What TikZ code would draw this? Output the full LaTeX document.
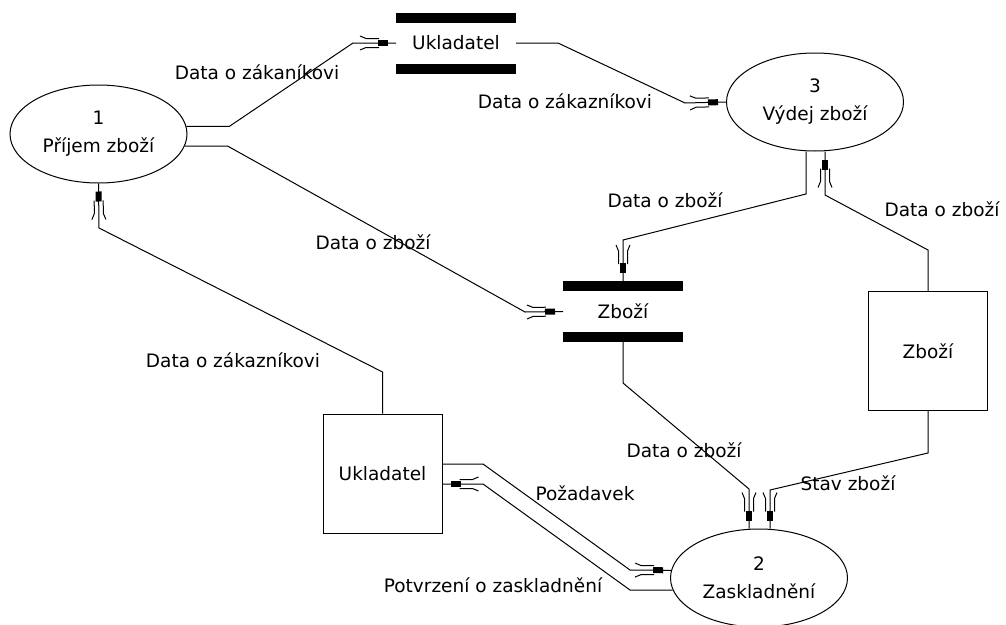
\documentclass[tikz,border=0pt]{standalone}
\usepackage{fontspec}
\setmainfont{DejaVu Sans}
\usepackage{tikz}
\usetikzlibrary{shapes.geometric,arrows.meta}

% flow arrow tip: black block with two prongs behind it
\pgfdeclarearrow{
  name = Flow,
  setup code = {
    \pgfarrowssettipend{0pt}
    \pgfarrowssetlineend{0pt}
    \pgfarrowssetbackend{-36pt}
    \pgfarrowsupperhullpoint{-36pt}{7pt}
    \pgfarrowsupperhullpoint{0pt}{3pt}
  },
  drawing code = {
    \pgfpathrectangle{\pgfpoint{-18pt}{-3pt}}{\pgfpoint{10pt}{6pt}}
    \pgfusepathqfill
    \pgfpathmoveto{\pgfpoint{-17pt}{4.5pt}}
    \pgfpathlineto{\pgfpoint{-30pt}{4.5pt}}
    \pgfpathlineto{\pgfpoint{-36pt}{7pt}}
    \pgfpathmoveto{\pgfpoint{-17pt}{-4.5pt}}
    \pgfpathlineto{\pgfpoint{-30pt}{-4.5pt}}
    \pgfpathlineto{\pgfpoint{-36pt}{-7pt}}
    \pgfusepathqstroke
  },
  parameters = {},
}

\tikzset{
  txt/.style={font=\fontsize{18.5}{28}\selectfont},
  process/.style={txt,draw,ellipse,minimum width=177pt,minimum height=98pt,inner sep=0pt,align=center},
  entity/.style={txt,draw,minimum width=119pt,minimum height=119pt,inner sep=0pt},
  store/.style={txt,minimum width=119pt,minimum height=60pt,inner sep=0pt},
  flow/.style={-Flow},
  lbl/.style={txt,inner sep=0pt}
}

\begin{document}
\begin{tikzpicture}[x=1pt,y=-1pt,line width=1pt]
\useasboundingbox (0,0) rectangle (1006,624);

% processes
\node[process] (p1) at (98.5,134) {1\\Příjem zboží};
\node[process] (p3) at (815,102) {3\\Výdej zboží};
\node[process] (p2) at (759,578) {2\\Zaskladnění};

% entities
\node[entity] (ent1) at (382.5,473.5) {Ukladatel};
\node[entity] (ent2) at (928,351) {Zboží};

% data stores
\node[store] (st1) at (456,43) {Ukladatel};
\node[store] (st2) at (623,311.5) {Zboží};
\foreach \s in {st1,st2} {
  \fill (\s.north west) rectangle ([yshift=-10pt]\s.north east);
  \fill (\s.south west) rectangle ([yshift=10pt]\s.south east);
}

% flows
\draw[flow] (p1.5) -- ++(43,0) -- (353,43) -- (st1.west);
\draw[flow] (st1.east) -- (558,43) -- (685,103) -- (p3.west);
\draw[flow] (p1.-8) -- ++(43,0) -- (525,312) -- (st2.west);
\draw[flow] ([xshift=-9pt]p3.south) -- (806,194) -- (623,240) -- (st2.north);
\draw[flow] (ent2.north) -- (928,250) -- (825,195) -- ([xshift=10pt]p3.south);
\draw[flow] (st2.south) -- (623,383) -- (749,489) -- ([xshift=-10pt]p2.north);
\draw[flow] (ent2.south) -- (928,453) -- (770,490) -- ([xshift=11pt]p2.north);
\draw[flow] ([yshift=9.5pt]ent1.east) -- (483,464) -- (630,570) -- (p2.175);
\draw[flow] (p2.188) -- (630,590) -- (483,484) -- ([yshift=-10.5pt]ent1.east);
\draw[flow] (ent1.north) -- (382.5,372) -- (99,228) -- (p1.south);

% labels
\node[lbl] (l1) at (257,72) {Data o zákaníkovi};
\node[lbl] (l2) at (565,101) {Data o zákazníkovi};
\node[lbl] (l3) at (665,200) {Data o zboží};
\node[lbl] (l4) at (942,209) {Data o zboží};
\node[lbl] (l5) at (373,242) {Data o zboží};
\node[lbl] (l6) at (233,360) {Data o zákazníkovi};
\node[lbl] (l7) at (684,450) {Data o zboží};
\node[lbl] (l8) at (848,483) {Stav zboží};
\node[lbl] (l9) at (585,493) {Požadavek};
\node[lbl] (l10) at (493,585) {Potvrzení o zaskladnění};
\end{tikzpicture}
\end{document}
